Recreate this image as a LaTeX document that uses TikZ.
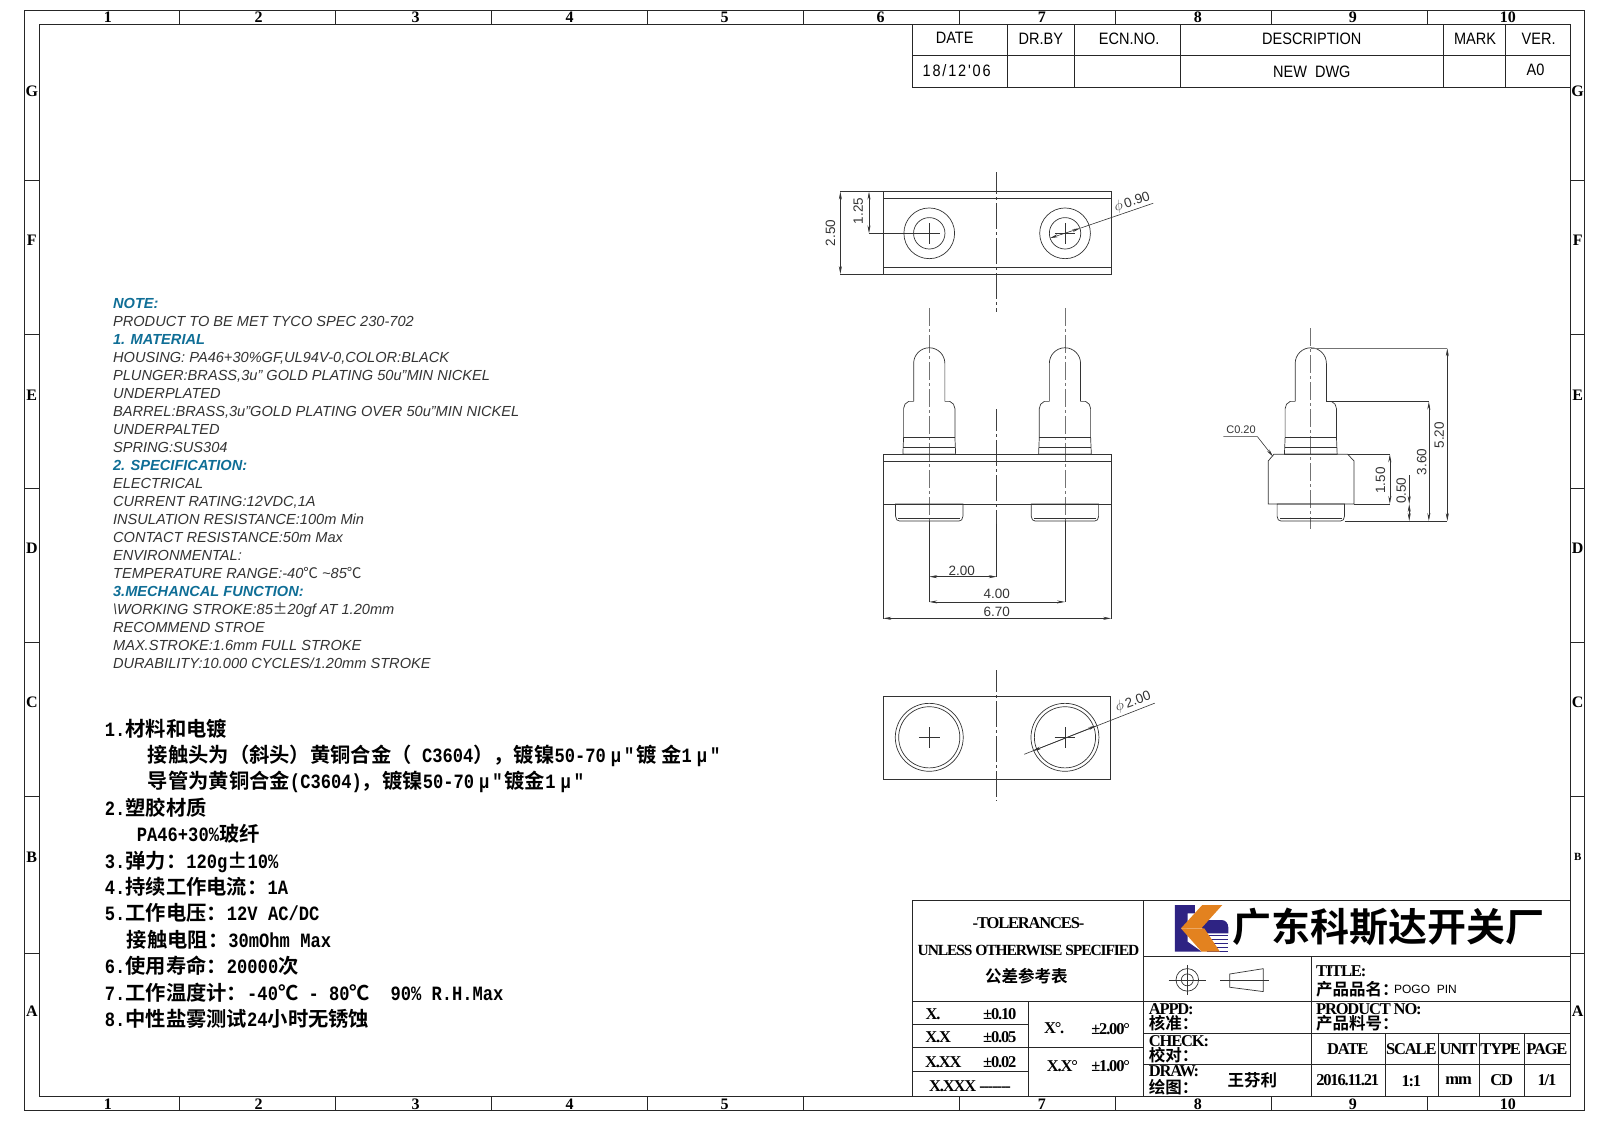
\documentclass[tikz,border=0pt]{standalone}
\usepackage{fontspec}
\usetikzlibrary{arrows.meta}
\setmainfont{Liberation Serif}
\setsansfont{Liberation Sans}
\setmonofont{Liberation Mono}[FakeStretch=0.843]
\newfontfamily\tbfont{Liberation Serif}[LetterSpace=-7]
\newfontfamily\revfont{Liberation Sans}[FakeStretch=0.88]
\newfontfamily\cjk{Noto Sans CJK SC}[BoldFont=Noto Sans CJK SC Bold]
\newcommand{\zh}[1]{{\cjk\bfseries #1}}
\newcommand{\mus}{\hspace{5pt}μ\hspace{3pt}"\hspace{2pt}}
\definecolor{notecol}{HTML}{0F6E96}
\definecolor{logoblue}{HTML}{2E2383}
\definecolor{logoorange}{HTML}{E3821F}
\definecolor{dimcol}{HTML}{333333}
\tikzset{
frameline/.style={line width=0.9pt,draw=black!85},
part/.style={line width=0.7pt,draw=black!80},
axisline/.style={line width=1.3pt,draw=black!75,dash pattern=on 26pt off 3pt on 3pt off 3pt,dash phase=4pt},
pinaxis/.style={line width=0.7pt,draw=black!55,dash pattern=on 18pt off 3pt on 3pt off 3pt},
dimline/.style={line width=0.6pt,draw=dimcol,>={Stealth[length=8pt,width=3pt]}},
dimtext/.style={font=\fontsize{13.5}{14}\sffamily,text=dimcol,inner sep=0pt},
ticktext/.style={font=\fontsize{16}{16}\rmfamily\bfseries,inner sep=0pt},
revtext/.style={font=\fontsize{16.5}{16}\revfont,inner sep=0pt},
tbtext/.style={font=\fontsize{16.5}{16}\tbfont\bfseries,inner sep=0pt},
tbleft/.style={tbtext,anchor=west},
}
\begin{document}
\begin{tikzpicture}[x=1.0265pt,y=-1.0265pt]
\useasboundingbox (0,0) rectangle (1568.5,1093);
\draw[frameline] (24,10) rectangle (1544,1082);
\draw[frameline] (38,24) rectangle (1530,1068);
\foreach \x in {175,327,479,631,783,935,1087,1239,1391}{
\draw[frameline] (\x,10)--(\x,24);
\draw[frameline] (\x,1068)--(\x,1082);
}
\foreach \y in {176,326,476,626,776,929}{
\draw[frameline] (24,\y)--(38,\y);
\draw[frameline] (1530,\y)--(1544,\y);
}
\foreach \x/\lab [count=\i] in {105/1,252/2,405/3,555/4,706/5,858/6,1015/7,1167/8,1318/9,1469/10}{
\node[ticktext] (topnum\i) at (\x,17) {\lab};
}
\foreach \x/\lab [count=\i] in {105/1,252/2,405/3,555/4,706/5,1015/7,1167/8,1318/9,1469/10}{
\node[ticktext] (botnum\i) at (\x,1075.5) {\lab};
}
\foreach \y/\lab [count=\i] in {89/G,234/F,385/E,534/D,684/C,835/B,985/A}{
\node[ticktext] (leftlet\i) at (31,\y) {\lab};
}
\foreach \y/\lab/\fs [count=\i] in {89/G/16,234/F/16,385/E/16,534/D/16,684/C/16,835/B/11,985/A/16}{
\node[ticktext,font=\fontsize{\fs}{16}\rmfamily\bfseries] (rightlet\i) at (1537,\y) {\lab};
}
% revision table
\draw[frameline] (889,24)--(889,85)--(1530,85);
\draw[frameline] (889,54)--(1530,54);
\foreach \x in {981,1047,1150,1406,1467}{\draw[frameline] (\x,24)--(\x,85);}
\foreach \x/\y/\lab [count=\i] in {930/37/DATE,1014/38/DR.BY,1100/38/ECN.NO.,1278/38/DESCRIPTION,1437/38/MARK,1499/38/VER.,932/69/{{\addfontfeature{LetterSpace=11}18/12'06}},1278/70/NEW\ \ DWG,1496/68/A0}{
\node[revtext] (rev\i) at (\x,\y) {\lab};
}
% notes
\node[anchor=north west,align=left,inner sep=0pt,font=\fontsize{14.6}{18}\sffamily\itshape,text=black!80] (notes) at (110,290.5) {%
\textcolor{notecol}{\bfseries NOTE:}\\
PRODUCT TO BE MET TYCO SPEC 230-702\\
\textcolor{notecol}{\bfseries 1. MATERIAL}\\
HOUSING: PA46+30\%GF,UL94V-0,COLOR:BLACK\\
PLUNGER:BRASS,3u” GOLD PLATING 50u”MIN NICKEL\\
UNDERPLATED\\
BARREL:BRASS,3u”GOLD PLATING OVER 50u”MIN NICKEL\\
UNDERPALTED\\
SPRING:SUS304\\
\textcolor{notecol}{\bfseries 2. SPECIFICATION:}\\
ELECTRICAL\\
CURRENT RATING:12VDC,1A\\
INSULATION RESISTANCE:100m Min\\
CONTACT RESISTANCE:50m Max\\
ENVIRONMENTAL:\\
TEMPERATURE RANGE:-40{\cjk ℃} \textasciitilde85{\cjk ℃}\\
\textcolor{notecol}{\bfseries 3.MECHANCAL FUNCTION:}\\
\textbackslash WORKING STROKE:85{\cjk ±}20gf AT 1.20mm\\
RECOMMEND STROE\\
MAX.STROKE:1.6mm FULL STROKE\\
DURABILITY:10.000 CYCLES/1.20mm STROKE};
% chinese notes
\node[anchor=north west,align=left,inner sep=0pt,font=\fontsize{20.3}{26.4}\ttfamily\bfseries] (cnnotes) at (102,700) {%
1.\zh{材料和电镀}\\
\hspace*{43pt}\zh{接触头为（斜头）黄铜合金（} C3604\zh{），镀镍}50-70\mus\zh{镀 金}1\mus\\
\hspace*{43pt}\zh{导管为黄铜合金}(C3604)\zh{，镀镍}50-70\mus\zh{镀金}1\mus\\
2.\zh{塑胶材质}\\
\hspace*{32pt}PA46+30\%\zh{玻纤}\\
3.\zh{弹力：}120g{\zh{±}}10\%\\
4.\zh{持续工作电流：}1A\\
5.\zh{工作电压：}12V AC/DC\\
\hspace*{22pt}\zh{接触电阻：}30mOhm Max\\
6.\zh{使用寿命：}20000\zh{次}\\
7.\zh{工作温度计：}-40\zh{℃} - 80\zh{℃}\ \ 90\% R.H.Max\\
8.\zh{中性盐雾测试}24\zh{小时无锈蚀}};
% centre lines of the views
\draw[axisline] (971,168)--(971,304);
\draw[axisline] (971,398.5)--(971,510);
\draw[axisline] (971,653)--(971,780);
\foreach \cx in {905.3,1037.5}{\draw[pinaxis] (\cx,300)--(\cx,510);}
\draw[pinaxis] (1277,320)--(1277,515);
% top view
\draw[part] (860.5,186.7) rectangle (1082.5,267);
\draw[part] (860.5,193.2)--(1082.5,193.2);
\draw[part] (860.5,260.4)--(1082.5,260.4);
\foreach \cx in {905.3,1037.6}{
\draw[part] (\cx,227.3) circle[radius=24.7];
\draw[part] (\cx,227.3) circle[radius=15.3];
\draw[part] (\cx-10,227.3)--(\cx+10,227.3);
\draw[part] (\cx,217.3)--(\cx,237.3);
}
\draw[dimline] (818.7,186.7)--(860.5,186.7);
\draw[dimline] (818.7,267)--(860.5,267);
\draw[dimline,<->] (818.7,186.7)--(818.7,267);
\node[dimtext,rotate=90] (dimb) at (809,227) {2.50};
\draw[dimline] (846.6,227.3)--(895,227.3);
\draw[dimline,<->] (846.6,186.7)--(846.6,227.3);
\node[dimtext,rotate=90] (dima) at (836,205.6) {1.25};
\draw[dimline,<->] (1022.9,232)--(1052.4,222.3);
\draw[dimline] (1052.4,222.3)--(1123.5,198);
\node[dimtext,rotate=18.5] (dimc) at (1103,197) {$\phi$\,0.90};
% front and side view
\foreach \cx in {905.3,1037.5,1277}{
\begin{scope}[shift={(\cx,0)}]
\draw[part] (-15.2,391)--(-15.2,354) arc[start angle=180,end angle=360,radius=15.2]--(15.2,391);
\foreach \s in {-1,1}{
\draw[part,xscale=\s] (15.2,391)--(20,391) .. controls (23,392) and (25,395) .. (25,398)--(25,426)--(25.7,442.5)--(-25.7,442.5);
\draw[part,xscale=\s] (0,491)--(32.8,491)--(32.8,503) .. controls (32.8,506) and (31,507.6) .. (29,507.6)--(0,507.6);
\draw[part,xscale=\s] (0,505)--(30,505);
}
\draw[part] (-25,426)--(25,426);
\draw[part] (-25.3,436)--(25.3,436);
\end{scope}
}
\draw[part] (860.5,442.3) rectangle (1082.5,491);
\draw[part] (860.5,449)--(1082.5,449);
\draw[dimline] (860.5,491)--(860.5,603);
\draw[dimline] (1082.5,491)--(1082.5,603);
\draw[dimline] (905.3,507.6)--(905.3,586.4);
\draw[dimline] (1037.5,507.6)--(1037.5,586.4);
\draw[dimline] (971,510)--(971,561.8);
\draw[dimline,<->] (905.3,561.8)--(971,561.8);
\draw[dimline,<->] (905.3,586.4)--(1037.5,586.4);
\draw[dimline,<->] (860.5,602.4)--(1082.5,602.4);
\node[dimtext] (dimd) at (937,556) {2.00};
\node[dimtext] (dime) at (971,579) {4.00};
\node[dimtext] (dimf) at (971,596) {6.70};
% side view body
\draw[part] (1241,442.6)--(1235.6,449)--(1235.6,491)--(1319,491)--(1319,449)--(1313,442.6)--cycle;
\draw[dimline] (1313,442.6)--(1354,442.6);
\draw[dimline] (1319,491)--(1354,491);
\draw[dimline,<->] (1354,442.6)--(1354,491);
\node[dimtext,rotate=90] (dimg) at (1345,468) {1.50};
\draw[dimline,<-] (1372.9,491)--(1372.9,462.7);
\draw[dimline,<->] (1372.9,491)--(1372.9,507.6);
\node[dimtext,rotate=90] (dimh) at (1365,478) {0.50};
\draw[dimline] (1292,391.3)--(1392,391.3);
\draw[dimline,<->] (1392,391.3)--(1392,507.6);
\node[dimtext,rotate=90] (dimi) at (1385,450) {3.60};
\draw[line width=1.1pt,draw=black!55] (1277,339.3)--(1410,339.3);
\draw[dimline,<->] (1410,339.3)--(1410,507.6);
\node[dimtext,rotate=90] (dimj) at (1402,424) {5.20};
\draw[dimline] (1310,507.6)--(1410,507.6);
\draw[dimline,->] (1191.8,425.4)--(1225,425.4)--(1240.3,444.9);
\node[font=\fontsize{11}{12}\sffamily,text=dimcol,inner sep=0pt] (dimk) at (1209,419) {C0.20};
% bottom view
\draw[part] (860.5,678) rectangle (1082,759.2);
\foreach \cx in {905.3,1037.5}{
\draw[part] (\cx,718.3) circle[radius=33.1];
\draw[part] (\cx,718.3) circle[radius=29.8];
\draw[part] (\cx-10,718.3)--(\cx+10,718.3);
\draw[part] (\cx,708.3)--(\cx,728.3);
}
\draw[dimline] (997.9,734.8)--(1125,685);
\draw[dimline,<->] (1006,731.6)--(1068,707);
\node[dimtext,rotate=20] (diml) at (1104,684) {$\phi$\,2.00};
% title block
\draw[frameline] (889,877)--(1530,877);
\draw[frameline] (889,877)--(889,1068);
\draw[frameline] (1114,877)--(1114,1068);
\draw[frameline] (889,976)--(1530,976);
\draw[frameline] (1114,932)--(1530,932);
\draw[frameline] (1278,932)--(1278,1068);
\draw[frameline] (1114,1006.5)--(1530,1006.5);
\draw[frameline] (1114,1036.8)--(1530,1036.8);
\draw[frameline] (889,998)--(1002,998);
\draw[frameline] (889,1020.6)--(1114,1020.6);
\draw[frameline] (889,1044)--(1002,1044);
\draw[frameline] (1002,976)--(1002,1068);
\foreach \x in {1350,1401.6,1441,1484.7}{\draw[frameline] (\x,1006.5)--(\x,1068);}
\foreach \x/\y/\lab [count=\i] in {1002/899/-TOLERANCES-,1002/926/{\fontsize{15.5}{16}\selectfont UNLESS OTHERWISE SPECIFIED},1000/951/\zh{公差参考表},909/988/X.,974/988/±0.10,914/1010/X.X,974/1010/±0.05,919/1035/X.XX,974/1035/±0.02,945/1058/X.XXX -------,1027/1002/X°.,1082/1003/±2.00°,1035/1039/X.X°,1082/1039/±1.00°,1220/1052/\zh{王芬利},1313/1022/DATE,1375/1022/SCALE,1421/1022/UNIT,1462/1022/TYPE,1507/1022/PAGE,1313/1052/2016.11.21,1375/1053/1:1,1421/1053/mm,1463/1052/CD,1507/1052/{1/1}}{
\node[tbtext] (tb\i) at (\x,\y) {\lab};
}
\foreach \x/\y/\lab [count=\i] in {1119/983/APPD:,1119/997/\zh{核准：},1119/1014/CHECK:,1119/1028/\zh{校对：},1119/1044/DRAW:,1119/1059/\zh{绘图：},1282/946/TITLE:,1282/964/\zh{产品品名：},1282/983/PRODUCT NO:,1282/997/\zh{产品料号：}}{
\node[tbleft] (tbl\i) at (\x,\y) {\lab};
}
\node[anchor=west,font=\fontsize{12}{12}\sffamily,inner sep=0pt] (prodname) at (1358,964) {POGO\ \ PIN};
\node[font=\fontsize{39}{39}\cjk\bfseries,inner sep=0pt] (company) at (1353,903) {广东科斯达开关厂};
% logo
\begin{scope}[shift={(1134.9,876.8)},scale=0.3247]
\fill[logoblue] (30,15)--(90,15)--(90,40)--(68,40)--(68,72)--(48,85)--(68,105)--(68,125)--(110,155)--(30,155)--cycle;
\fill[logoblue] (118,60)--(170,60) .. controls (182,60) and (190,70) .. (190,82)--(190,100)--(125,100)--(108,80)--cycle;
\foreach \y in {105,117,129,141,153}{\draw[logoblue,line width=1pt] (125,\y)--(190,\y);}
\fill[logoorange] (112,15)--(172,15)--(110,84)--(48,85)--cycle;
\fill[logoorange] (48,85)--(118,85)--(165,155)--(110,155)--cycle;
\end{scope}
% projection symbol
\draw[part] (1156.7,954.6) circle[radius=11];
\draw[part] (1156.7,954.6) circle[radius=5.8];
\draw[part] (1138.4,954.6)--(1175,954.6);
\draw[part] (1156.7,940)--(1156.7,969.2);
\draw[part] (1198,948.9)--(1230.6,943.7)--(1230.6,966)--(1198,961.8)--cycle;
\draw[part] (1189,954.6)--(1236,954.6);
\end{tikzpicture}
\end{document}
